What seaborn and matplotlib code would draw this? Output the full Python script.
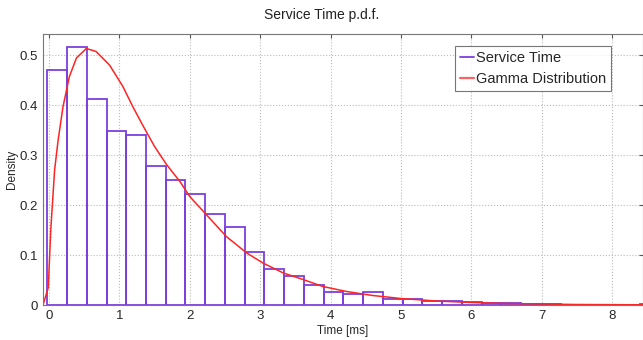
import numpy as np
import pandas as pd
import matplotlib
matplotlib.use("Agg")
import matplotlib.pyplot as plt
from matplotlib.lines import Line2D
import seaborn as sns

### data
# histogram of service times (density per bin), bins start at -0.024 ms, width 0.2805 ms
bin_start = -0.024
bin_width = 0.2805
bin_heights = [0.470, 0.517, 0.413, 0.349, 0.339, 0.279, 0.251, 0.221, 0.183, 0.157,
               0.106, 0.072, 0.058, 0.041, 0.026, 0.022, 0.026, 0.011, 0.012, 0.009,
               0.007, 0.006, 0.004, 0.003, 0.002, 0.002, 0.001, 0.001, 0.001, 0.001,
               0.002]

# fitted gamma pdf
gamma_x = [-0.085, -0.01, 0.025, 0.08, 0.13, 0.2, 0.29, 0.39, 0.53, 0.67, 0.86, 1.05,
           1.19, 1.33, 1.5, 1.67, 1.86, 2.0, 2.24, 2.52, 2.81, 3.04, 3.33, 3.61, 3.89,
           4.23, 4.6, 5.0, 5.5, 6.0, 6.5, 7.0, 7.5, 8.0, 8.44]
gamma_y = [0.0, 0.035, 0.15, 0.27, 0.33, 0.397, 0.457, 0.494, 0.513, 0.507, 0.48, 0.437,
           0.397, 0.36, 0.317, 0.281, 0.247, 0.217, 0.18, 0.137, 0.104, 0.084, 0.064, 0.051, 0.037,
           0.027, 0.019, 0.013, 0.008, 0.005, 0.003, 0.002, 0.001, 0.0007, 0.0004]

x_ticks = [0, 1, 2, 3, 4, 5, 6, 7, 8]
y_ticks = [0, 0.1, 0.2, 0.3, 0.4, 0.5]
y_ticklabels = ["0", "0.1", "0.2", "0.3", "0.4", "0.5"]

edges = bin_start + bin_width * np.arange(len(bin_heights) + 1)
hist_df = pd.DataFrame({"center": (edges[:-1] + edges[1:]) / 2, "density": bin_heights})
gamma_df = pd.DataFrame({"x": gamma_x, "y": gamma_y})

hist_col = "#7d3fdc"
gamma_col = "#ff2424"

### plotting
sns.set_style("white")
plt.rcParams["font.family"] = ["Liberation Sans", "DejaVu Sans"]

fig = plt.figure(figsize=(6.43, 3.40), dpi=100)
ax = fig.add_axes([43 / 643, 35 / 340, 600 / 643, 271 / 340])

sns.histplot(data=hist_df, x="center", weights="density", bins=edges.tolist(), stat="count",
             fill=False, element="bars", color=hist_col, linewidth=1.3, ax=ax)
sns.lineplot(data=gamma_df, x="x", y="y", color=gamma_col, linewidth=1.1, ax=ax, sort=False)

ax.set_xlim(-0.085, 8.44)
ax.set_ylim(0, 0.542)
ax.set_xticks(x_ticks)
ax.set_yticks(y_ticks)
ax.set_xticklabels([str(t) for t in x_ticks])
ax.set_yticklabels(y_ticklabels)
ax.tick_params(labelsize=9.5, length=3, color="#555555", direction="in", top=True, right=True)
ax.grid(True, linestyle=":", color="#bbbbbb", linewidth=0.8)
ax.set_axisbelow(True)
for s in ax.spines.values():
    s.set_color("#777777")
    s.set_linewidth(0.8)

ax.set_xlabel("Time [ms]", fontsize=8.5, labelpad=2)
ax.set_ylabel("Density", fontsize=8.5)
ax.yaxis.set_label_coords(-25 / 600, 0.5)
fig.text(0.5, 0.957, "Service Time p.d.f.", ha="center", va="center", fontsize=10,
         color="#222222")

handles = [Line2D([0], [0], color=hist_col, lw=1.3),
           Line2D([0], [0], color="#ff6060", lw=1.6)]
leg = ax.legend(handles, ["Service Time", "Gamma Distribution"], loc="upper right",
                bbox_to_anchor=(611 / 643, (340 - 46) / 340), bbox_transform=fig.transFigure,
                fontsize=10.5, frameon=True, fancybox=False, handlelength=0.9,
                handletextpad=0.15, borderpad=0.35, labelspacing=0.45, borderaxespad=0)
leg.get_frame().set_edgecolor("#555555")
leg.get_frame().set_linewidth(0.8)

fig.savefig("out.png", dpi=100)
